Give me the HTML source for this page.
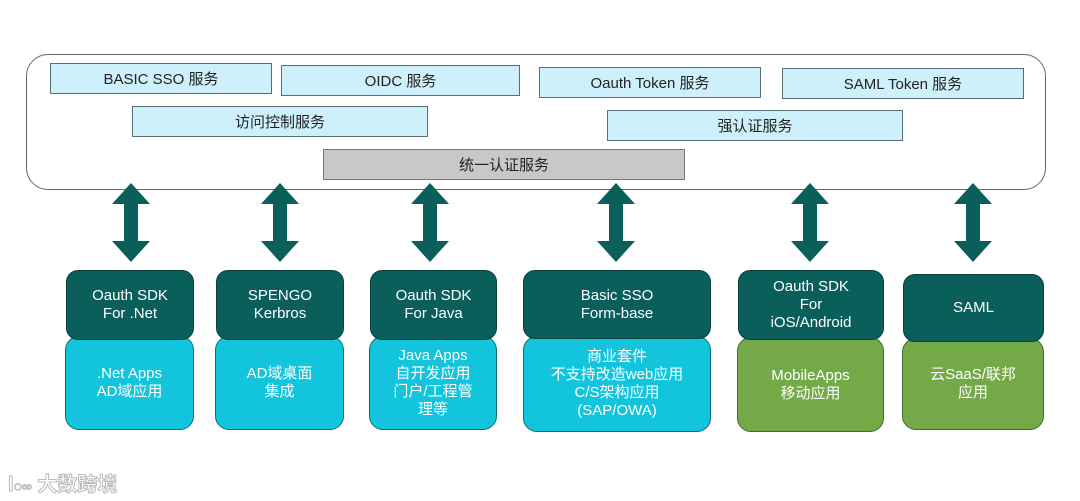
<!DOCTYPE html>
<html><head><meta charset="utf-8"><style>
body{margin:0;width:1080px;height:501px;background:#fff;position:relative;overflow:hidden;font-family:"Liberation Sans","Noto Sans CJK SC",sans-serif;}
.a{position:absolute;box-sizing:border-box;display:flex;align-items:center;justify-content:center;text-align:center;}
.lb{background:#cdf0fa;border:1px solid #5a6e78;font-size:15px;color:#222;}
.gr{background:#c8c8c8;border:1px solid #777;font-size:15px;color:#222;}
.dk{background:#0b5f5a;border:1px solid #0a3f3c;border-radius:12px;color:#fff;font-size:15px;line-height:18px;}
.cy{background:#12c4dc;border:1px solid #0a6f70;border-radius:14px;color:#fff;font-size:15px;line-height:18px;}
.gn{background:#74a947;border:1px solid #3f6a30;border-radius:14px;color:#fff;font-size:15px;line-height:18px;}
</style></head><body>
<div class="a" style="left:26px;top:54px;width:1020px;height:136px;border:1.5px solid #666;border-radius:22px;"></div>
<div class="a lb" style="left:50px;top:63px;width:222px;height:31px;">BASIC SSO 服务</div>
<div class="a lb" style="left:281px;top:65px;width:239px;height:31px;">OIDC 服务</div>
<div class="a lb" style="left:539px;top:67px;width:222px;height:31px;">Oauth Token 服务</div>
<div class="a lb" style="left:782px;top:68px;width:242px;height:31px;">SAML Token 服务</div>
<div class="a lb" style="left:132px;top:106px;width:296px;height:31px;">访问控制服务</div>
<div class="a lb" style="left:607px;top:110px;width:296px;height:31px;">强认证服务</div>
<div class="a gr" style="left:323px;top:149px;width:362px;height:31px;">统一认证服务</div>
<svg style="position:absolute;left:0;top:0" width="1080" height="501">
<defs><polygon id="ar" points="0,0 19,21 7,21 7,58 19,58 0,79 -19,58 -7,58 -7,21 -19,21" fill="#0b5f5a"/></defs>
<use href="#ar" x="131" y="183"/><use href="#ar" x="280" y="183"/><use href="#ar" x="430" y="183"/>
<use href="#ar" x="616" y="183"/><use href="#ar" x="810" y="183"/><use href="#ar" x="973" y="183"/>
</svg>
<div class="a cy" style="left:65px;top:336px;width:129px;height:94px;">.Net Apps<br>AD域应用</div>
<div class="a dk" style="left:66px;top:270px;width:128px;height:70px;">Oauth SDK<br>For .Net</div>
<div class="a cy" style="left:215px;top:336px;width:129px;height:94px;">AD域桌面<br>集成</div>
<div class="a dk" style="left:216px;top:270px;width:128px;height:70px;">SPENGO<br>Kerbros</div>
<div class="a cy" style="left:369px;top:336px;width:128px;height:94px;">Java Apps<br>自开发应用<br>门户/工程管<br>理等</div>
<div class="a dk" style="left:370px;top:270px;width:127px;height:70px;">Oauth SDK<br>For Java</div>
<div class="a cy" style="left:523px;top:336px;width:188px;height:96px;">商业套件<br>不支持改造web应用<br>C/S架构应用<br>(SAP/OWA)</div>
<div class="a dk" style="left:523px;top:270px;width:188px;height:69px;">Basic SSO<br>Form-base</div>
<div class="a gn" style="left:737px;top:337px;width:147px;height:95px;">MobileApps<br>移动应用</div>
<div class="a dk" style="left:738px;top:270px;width:146px;height:70px;">Oauth SDK<br>For<br>iOS/Android</div>
<div class="a gn" style="left:902px;top:338px;width:142px;height:92px;">云SaaS/联邦<br>应用</div>
<div class="a dk" style="left:903px;top:274px;width:141px;height:68px;">SAML</div>
<div style="position:absolute;left:8px;top:468px;font-size:20px;color:#fff;-webkit-text-stroke:1px #bbb;font-weight:bold;">l<span style="font-size:14px">◌∞</span> 大数跨境</div>
</body></html>
